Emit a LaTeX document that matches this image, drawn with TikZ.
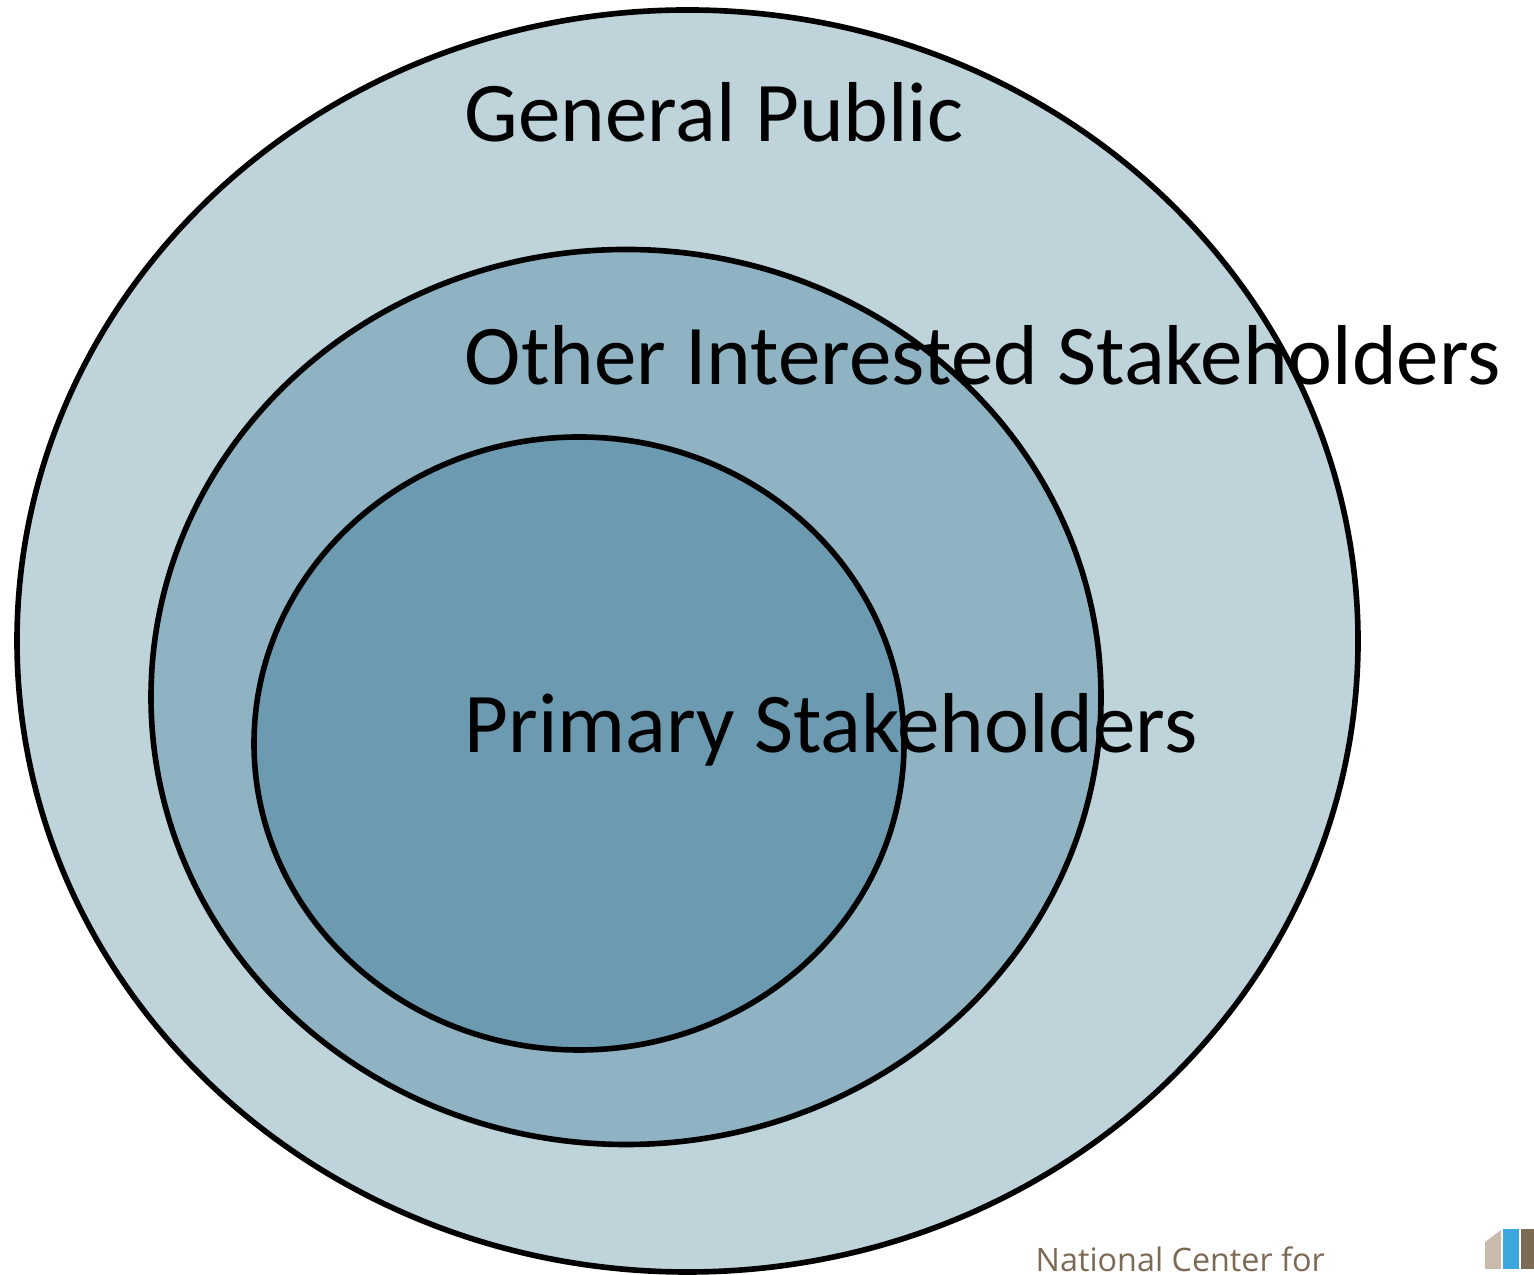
\documentclass[tikz,border=0pt]{standalone}
\usepackage{fontspec}
\setmainfont{Carlito}
\newfontfamily\logofont{Open Sans}
\usetikzlibrary{shapes.geometric}
\definecolor{publicfill}{HTML}{BFD3DB}
\definecolor{otherfill}{HTML}{90B3C3}
\definecolor{primaryfill}{HTML}{6C9AB0}
\definecolor{logobrown}{HTML}{7D6A55}
\definecolor{logotan}{HTML}{C8BBAC}
\definecolor{logoblue}{HTML}{3BA7DC}
\tikzset{
  ring/.style={shape=ellipse,draw=black,line width=1.6pt,inner sep=0pt},
  lbl/.style={anchor=base west,inner sep=0pt,font=\fontsize{24.2}{29}\selectfont},
}
\begin{document}
\begin{tikzpicture}
        \useasboundingbox (0,0) rectangle (15.34,12.74);
        \node[ring,fill=publicfill,minimum width=13.41cm,minimum height=12.62cm] (P) at (6.875,6.33) {};
        \node[ring,fill=otherfill,minimum width=9.50cm,minimum height=8.95cm] (O) at (6.26,5.77) {};
        \node[ring,fill=primaryfill,minimum width=6.50cm,minimum height=6.13cm] (S) at (5.79,5.305) {};
        \node[lbl] (PL) at (4.64,11.32) {General Public};
        \node[lbl] (OL) at (4.64,8.89) {Other Interested Stakeholders};
        \node[lbl] (SL) at (4.64,5.21) {Primary Stakeholders};
        % logo in the corner
        \node[anchor=base west,inner sep=0pt,text=logobrown,font=\logofont\fontsize{9.2}{11}\selectfont] (NC) at (10.35,0.03) {National Center for};
        \fill[logotan] (14.85,0.05) -- (14.85,0.32) -- (15.01,0.44) -- (15.01,0.05) -- cycle;
        \fill[logoblue] (15.03,0.05) rectangle (15.19,0.45);
        \fill[logobrown] (15.21,0.05) rectangle (15.34,0.45);
    \end{tikzpicture}
\end{document}
